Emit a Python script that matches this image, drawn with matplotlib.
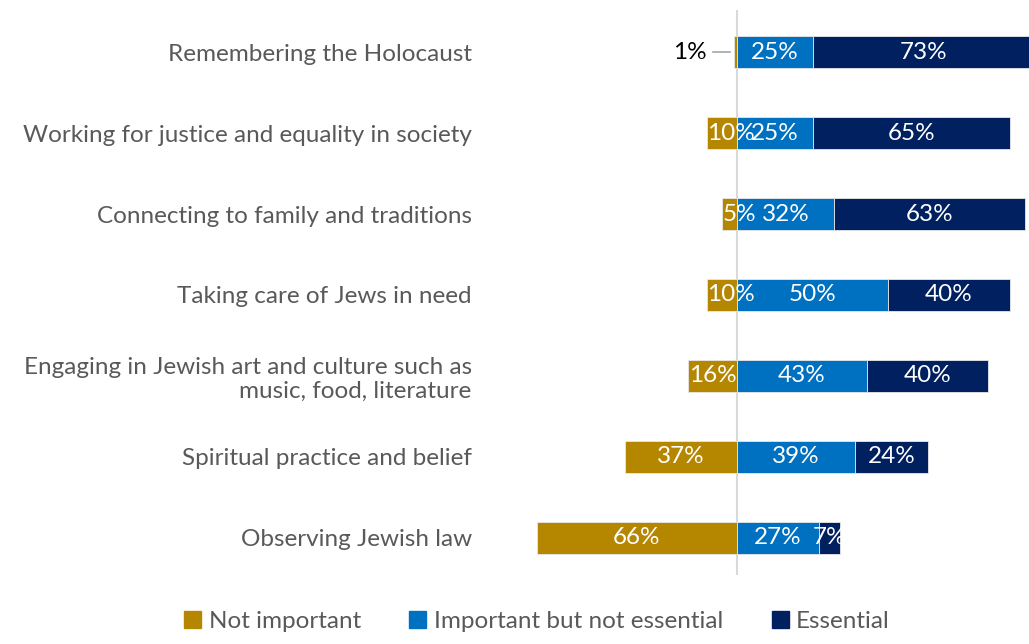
import matplotlib.pyplot as plt
from matplotlib.patches import Patch

plt.rcParams['font.family'] = ['Lato', 'DejaVu Sans']

# categories, top to bottom
categorias = [
    "Remembering the Holocaust",
    "Working for justice and equality in society",
    "Connecting to family and traditions",
    "Taking care of Jews in need",
    "Engaging in Jewish art and culture such as\nmusic, food, literature",
    "Spiritual practice and belief",
    "Observing Jewish law",
]
nao_importante = [1, 10, 5, 10, 16, 37, 66]
importante = [25, 25, 32, 50, 43, 39, 27]
essencial = [73, 65, 63, 40, 40, 24, 7]

cor_nao = '#B58600'
cor_imp = '#0070C0'
cor_ess = '#002060'
cinza = '#595959'
tam = 17.5

fig = plt.figure(figsize=(10.29, 6.44), dpi=100)
ax = fig.add_axes([480 / 1029, 0.107, 549 / 1029, 0.8775])

y = list(range(len(categorias)))
altura = 0.4

# not important goes to the left of zero
ax.barh(y, [-v for v in nao_importante], height=altura, color=cor_nao,
        edgecolor='#E8E8E8', linewidth=0.6)
ax.barh(y, importante, height=altura, color=cor_imp,
        edgecolor='#E8E8E8', linewidth=0.6)
ax.barh(y, essencial, left=importante, height=altura, color=cor_ess,
        edgecolor='#E8E8E8', linewidth=0.6)

ax.axvline(0, color='#D9D9D9', linewidth=1.5, zorder=0)

# percentage labels on the segments
for i in y:
    n, m, e = nao_importante[i], importante[i], essencial[i]
    if n < 5:
        # tiny value: label outside with a leader line
        ax.text(-15.5, i, f"{n}%", ha='center', va='center', color='black', fontsize=tam)
        ax.plot([-7.9, -n - 1.3], [i, i], color='#A6A6A6', lw=1.2)
    elif n <= 16:
        # narrow segment: start the label at the bar's left edge
        ax.text(-n + 0.2, i, f"{n}%", ha='left', va='center', color='white', fontsize=tam)
    else:
        ax.text(-n / 2, i, f"{n}%", ha='center', va='center', color='white', fontsize=tam)
    ax.text(m / 2, i, f"{m}%", ha='center', va='center', color='white', fontsize=tam)
    ax.text(m + e / 2, i, f"{e}%", ha='center', va='center', color='white', fontsize=tam)

ax.set_xlim(-84.8, 96.4)
ax.set_ylim(6.46, -0.52)
ax.set_yticks(y)
ax.set_yticklabels(categorias, fontsize=tam, color=cinza)
ax.tick_params(axis='y', length=0, pad=6)
ax.set_xticks([])
for lado in ax.spines.values():
    lado.set_visible(False)

itens = [Patch(color=cor_nao, label='Not important'),
         Patch(color=cor_imp, label='Important but not essential'),
         Patch(color=cor_ess, label='Essential')]
leg = fig.legend(handles=itens, loc='lower center', bbox_to_anchor=(537 / 1029, -0.015),
                 ncol=3, frameon=False, fontsize=tam, handlelength=0.7, handleheight=0.7,
                 handletextpad=0.3, columnspacing=2.0)
for t in leg.get_texts():
    t.set_color(cinza)

fig.savefig('out.png', dpi=100)
